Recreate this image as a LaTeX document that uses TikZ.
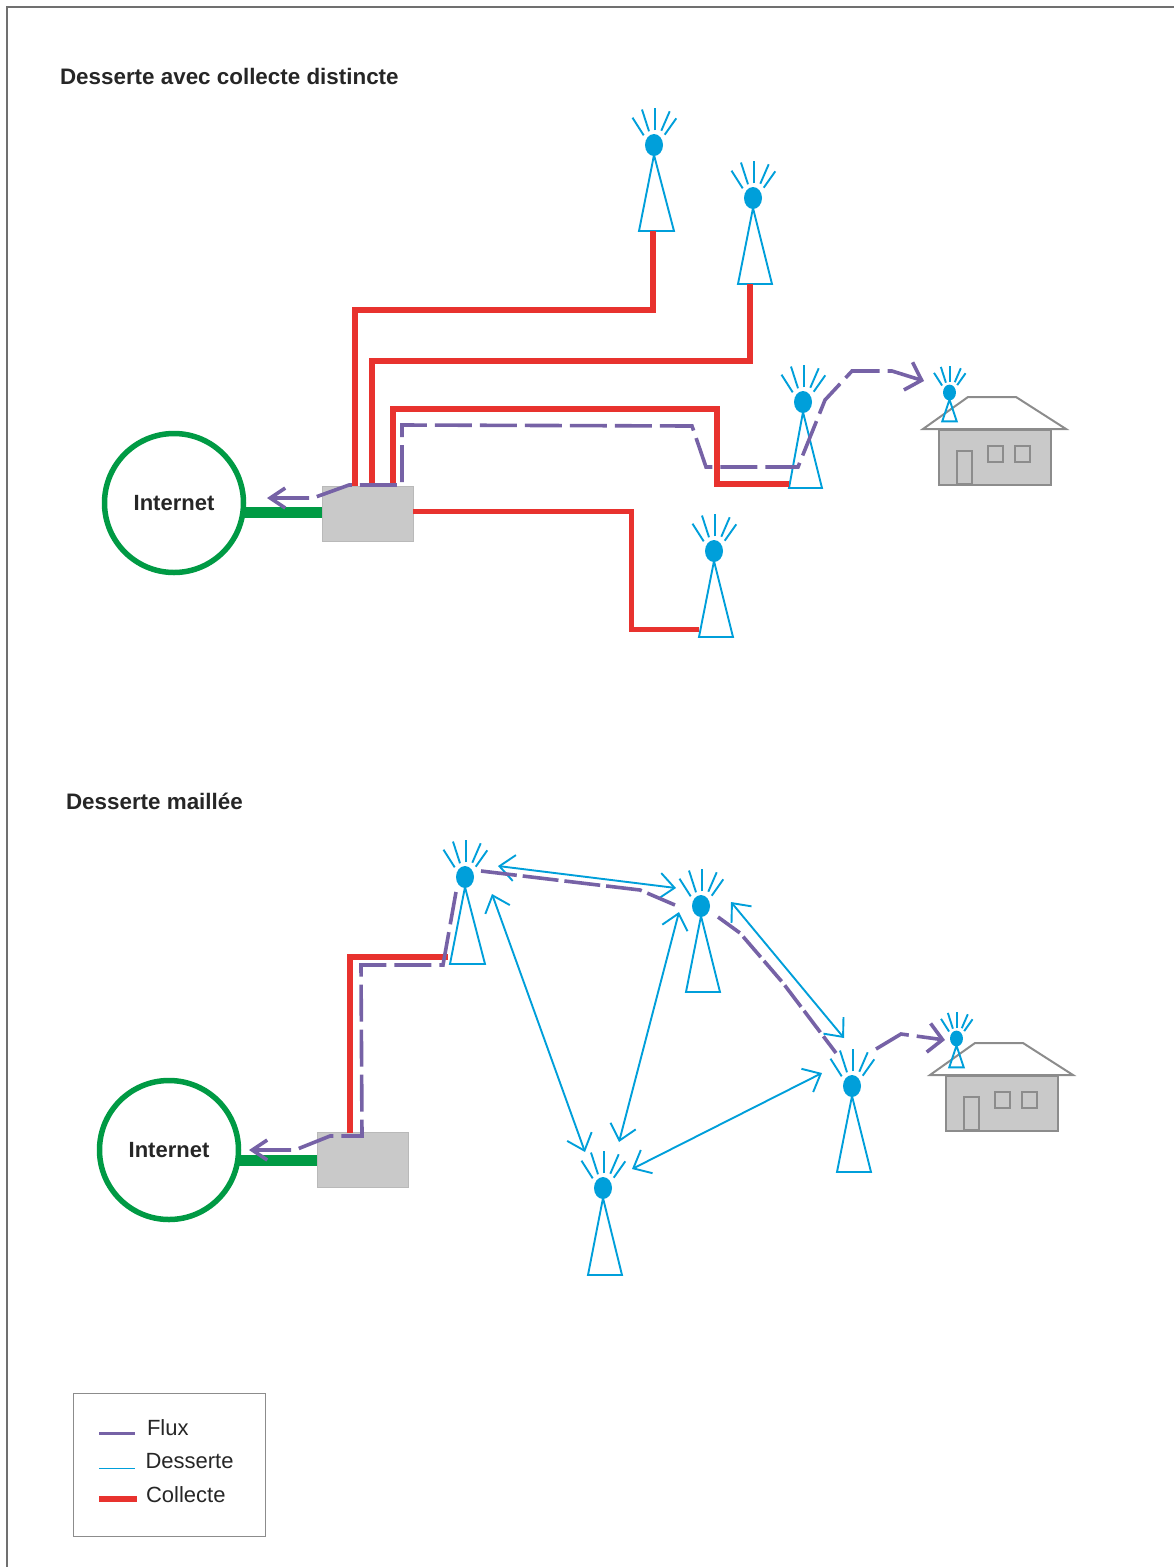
\documentclass[tikz,border=0pt]{standalone}
\usepackage{fontspec}
\setmainfont{Liberation Sans}
\usepackage{xcolor}
\usetikzlibrary{arrows.meta,positioning}
\definecolor{fluxpurple}{RGB}{118,98,166}
\definecolor{dessblue}{RGB}{0,159,218}
\definecolor{collred}{RGB}{232,50,46}
\definecolor{netgreen}{RGB}{0,154,68}
\definecolor{boxgrey}{RGB}{201,201,201}
\definecolor{edgegrey}{RGB}{140,140,140}

\begin{document}
\begin{tikzpicture}[
    x=1pt, y=-1pt,
    title/.style={anchor=west, font=\fontsize{22.4}{26}\selectfont\bfseries, text=black!85},
    legtext/.style={anchor=west, font=\fontsize{22}{26}\selectfont, text=black!85},
    inet/.style={circle, draw=netgreen, line width=5.5pt, minimum size=139pt, inner sep=0pt, font=\fontsize{22}{26}\selectfont\bfseries, text=black!85},
    gear/.style={rectangle, draw=boxgrey!90!black!95, fill=boxgrey, minimum width=91pt, minimum height=55pt, inner sep=0pt, line width=.5pt},
    backhaul/.style={netgreen, line width=11pt},
    collecte/.style={collred, line width=5.5pt},
    desserte/.style={dessblue, line width=1.9pt},
    meshtip/.tip={Straight Barb[length=15pt,width=26pt]},
    fluxtip/.tip={Straight Barb[length=15pt,width=20pt]},
    outtip/.tip={Straight Barb[length=14pt,width=29pt]},
    meshlink/.style={desserte, arrows={meshtip-meshtip}},
    flux/.style={fluxpurple, line width=3.6pt, dash pattern=on 37pt off 8pt},
    housepart/.style={edgegrey, line width=2pt},
    pics/tower/.style n args={3}{code={
        \draw[desserte] (0,10) -- (#1,#3) -- (#2,#3) -- cycle;
        \fill[dessblue] (0,0) ellipse [x radius=9, y radius=11];
        \draw[desserte] (-10.3,-9.7) -- (-21.5,-27.3);
        \draw[desserte] (-5,-13.7) -- (-12,-35.5);
        \draw[desserte] (1.3,-14.7) -- (1.3,-37);
        \draw[desserte] (7.3,-14.3) -- (15.7,-33.7);
        \draw[desserte] (10.7,-10.3) -- (22.3,-26.7);
        \coordinate (-left) at (#1,#3);
        \coordinate (-base) at (0,#3);
    }},
    pics/house/.style={code={
        \draw[housepart, fill=boxgrey] (16,1) rectangle (128,56);
        \draw[housepart] (0,0) -- (45,-32) -- (93,-32) -- (143,0) -- cycle;
        \draw[housepart] (34,22) rectangle (48.5,55);
        \draw[housepart] (64.5,17) rectangle (80,32.5);
        \draw[housepart] (92,17) rectangle (107,32.5);
    }}
]
    \useasboundingbox (0,0) rectangle (1174,1567);
    \draw[edgegrey!80!black, line width=1.3pt] (7,1567) -- (7,7) -- (1174,7);

    % Top diagram
    \node[title] (title1) at (56.5,76) {Desserte avec collecte distincte};
    \node[inet] (inet1) at (174,503) {\raisebox{-2pt}{Internet}};
    \node[gear] (box1) at (367.5,513.5) {};
    \pic (a1) at (654,145) {tower={-15}{20}{86}};
    \pic (a2) at (753,198) {tower={-15}{19}{86}};
    \pic (a3) at (803,402) {tower={-14}{19}{86}};
    \pic (a4) at (714,551) {tower={-15}{19}{86}};
    \pic (house1) at (923,429) {house};
    \pic[scale=.72] (a5) at (949.5,392.5) {tower={-10}{10}{40}};
    \coordinate (c1) at (355,486);
    \coordinate (c2) at (372,486);
    \coordinate (c3) at (393,486);

    \draw[backhaul] ([xshift=-2pt]inet1.east |- 0,512) -- (box1.west |- 0,512);
    \draw[collecte] ([xshift=-1pt]a1-base) -- ++(0,79) -| (c1);
    \draw[collecte] ([xshift=-3pt]a2-base) -- ++(0,77) -| (c2);
    \draw[collecte] ([yshift=4pt]a3-left) -- ++(-72,0) -- ++(0,-75) -| (c3);
    \draw[collecte, line width=5pt] ([yshift=2.5pt]box1.east) -- ++(218,0) |- ([yshift=8pt]a4-left);

    % Flow, top
    \coordinate (in1) at (267,498);
    \coordinate (out1) at (924,381);
    \draw[flux, arrows={fluxtip-outtip}] (in1) -- (313,498) -- (349,485) -- (402,485) -- (402,425) -- (692,426) -- (706,467) -- (798,467) -- (825,400) -- (852,371) -- (892,371) -- (out1);

    % Bottom diagram
    \node[title] (title2) at (62.5,801) {Desserte maillée};
    \node[inet] (inet2) at (169,1150) {\raisebox{-2pt}{Internet}};
    \node[gear] (box2) at (362.5,1160) {};
    \pic (b1) at (465,877) {tower={-15}{20}{87}};
    \pic (b2) at (701,906) {tower={-15}{19}{86}};
    \pic (b3) at (852,1086) {tower={-15}{19}{86}};
    \pic (b4) at (603,1188) {tower={-15}{19}{87}};
    \pic (house2) at (930,1075) {house};
    \pic[scale=.72] (b5) at (956.5,1038.5) {tower={-10}{10}{40}};
    \coordinate (c5) at (350,1133);

    \draw[backhaul] ([xshift=-2pt]inet2.east |- 0,1160) -- (box2.west |- 0,1160);
    \draw[collecte] ([xshift=-2pt,yshift=7pt]b1-left) -| (c5);

    % Mesh links
    \coordinate (m1a) at (498,866);
    \coordinate (m1b) at (676,888);
    \coordinate (m2a) at (492,894);
    \coordinate (m2b) at (585,1152);
    \coordinate (m3a) at (679,912);
    \coordinate (m3b) at (619,1142);
    \coordinate (m4a) at (632,1169);
    \coordinate (m4b) at (822,1073);
    \coordinate (m5a) at (731,902);
    \coordinate (m5b) at (844,1038);
    \draw[meshlink] (m1a) -- (m1b);
    \draw[meshlink] (m2a) -- (m2b);
    \draw[meshlink] (m3a) -- (m3b);
    \draw[meshlink] (m4a) -- (m4b);
    \draw[meshlink] (m5a) -- (m5b);

    % Flow, bottom
    \coordinate (in2) at (249,1150);
    \coordinate (out2) at (945,1040);
    \draw[flux, arrows={fluxtip-}] (in2) -- (295,1150) -- (330,1136) -- (362,1136) -- (361,965) -- (443,965) -- (456,892);
    \draw[flux, dash pattern=on 36pt off 6pt] (481,871) -- (640,890) -- (675,905);
    \draw[flux, dash pattern=on 27pt off 5pt] (718,917) -- (740,933) -- (783,983) -- (836,1053);
    \draw[flux, arrows={-outtip}] (876,1049) -- (901,1034) -- (out2);

    % Legend
    \node[draw=edgegrey, line width=1pt, minimum width=192pt, minimum height=143pt, inner sep=0pt] (legend) at (169,1464.5) {};
    \node[legtext] (lflux) at (143.5,1428) {Flux};
    \node[legtext] (ldess) at (142,1461) {Desserte};
    \node[legtext] (lcoll) at (142.5,1495) {Collecte};
    \coordinate (lf1) at (99,1433.5);
    \coordinate (lf2) at (135,1433.5);
    \coordinate (ld1) at (99,1468.5);
    \coordinate (ld2) at (135,1468.5);
    \coordinate (lc1) at (99,1499);
    \coordinate (lc2) at (137,1499);
    \draw[fluxpurple, line width=3.6pt] (lf1) -- (lf2);
    \draw[desserte] (ld1) -- (ld2);
    \draw[collecte] (lc1) -- (lc2);
\end{tikzpicture}
\end{document}
